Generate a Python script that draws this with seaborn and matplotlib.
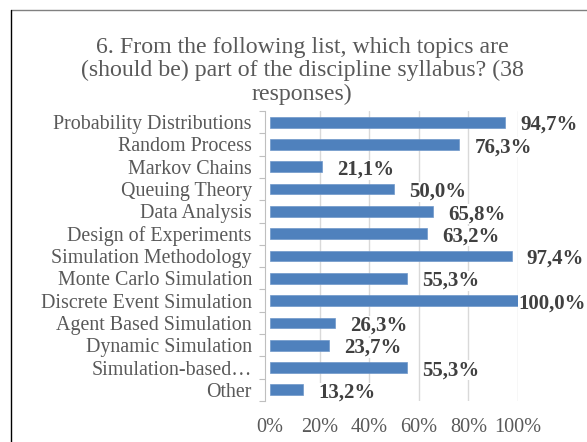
import numpy as np
import pandas as pd
import matplotlib
matplotlib.use("Agg")
import matplotlib.pyplot as plt
from matplotlib.lines import Line2D
import seaborn as sns

# Survey topics and share of the 38 responses that selected each one
topics = [
    "Probability Distributions",
    "Random Process",
    "Markov Chains",
    "Queuing Theory",
    "Data Analysis",
    "Design of Experiments",
    "Simulation Methodology",
    "Monte Carlo Simulation",
    "Discrete Event Simulation",
    "Agent Based Simulation",
    "Dynamic Simulation",
    "Simulation-based\u2026",
    "Other",
]
shares = [94.7, 76.3, 21.1, 50.0, 65.8, 63.2, 97.4, 55.3, 100.0, 26.3, 23.7, 55.3, 13.2]
x_ticks = [0, 20, 40, 60, 80, 100]
x_tick_labels = ["0%", "20%", "40%", "60%", "80%", "100%"]

title = ("6. From the following list, which topics are\n"
         "(should be) part of the discipline syllabus? (38\n"
         "responses)")

df = pd.DataFrame({"topic": topics, "share": shares})

sns.set_theme(style="white")
plt.rcParams["font.family"] = ["Liberation Serif", "DejaVu Serif"]

BAR = "#4F81BD"
GREY_TXT = "#595959"
GRID = "#D9D9D9"
AXIS = "#BFBFBF"

fig = plt.figure(figsize=(5.87, 4.42), dpi=100)
ax = fig.add_axes([270 / 587, 1 - 401 / 442, (518 - 270) / 587, 290 / 442])

sns.barplot(data=df, x="share", y="topic", orient="h", color=BAR,
            width=0.48, saturation=1, ax=ax, edgecolor="#6F97CA", linewidth=0.5)

ax.set_xlim(0, 100)
ax.set_ylim(len(topics) - 0.5, -0.5)
ax.set_xlabel("")
ax.set_ylabel("")

ax.set_xticks(x_ticks)
ax.set_xticklabels(x_tick_labels)
ax.tick_params(axis="x", length=0, pad=12, labelsize=14.6, labelcolor=GREY_TXT)
ax.tick_params(axis="y", which="major", length=0, pad=9.5, labelsize=14.4, labelcolor=GREY_TXT)
ax.set_yticks(np.arange(-0.5, len(topics), 1), minor=True)
ax.tick_params(axis="y", which="minor", left=True, length=4, width=0.8, color=AXIS)

ax.set_axisbelow(True)
ax.xaxis.grid(True, color=GRID, linewidth=1)
ax.yaxis.grid(False)
ax.get_xgridlines()[0].set_visible(False)

for side in ["top", "right", "bottom"]:
    ax.spines[side].set_visible(False)
ax.spines["left"].set_color(AXIS)
ax.spines["left"].set_linewidth(0.8)
ax.spines["left"].set_position(("outward", 3.5))

# Value labels just past the end of each bar
for i, v in enumerate(shares):
    offset = 11 if v < 100 else 0
    ax.annotate(f"{v:.1f}%".replace(".", ","), xy=(v, i), xytext=(offset, -2),
                textcoords="offset points", ha="left", va="center",
                fontsize=15, fontweight="bold", color="#404040",
                bbox=dict(facecolor="white", edgecolor="none", pad=0),
                annotation_clip=False)

fig.text(302 / 587, 1 - 37 / 442, title, ha="center", va="top",
         fontsize=17.2, color=GREY_TXT, linespacing=1.13)

# Chart frame edges
fig.add_artist(Line2D([11 / 587, 1], [1 - 10 / 442, 1 - 10 / 442],
                      transform=fig.transFigure, color="#808080", linewidth=1))
fig.add_artist(Line2D([11 / 587, 11 / 587], [0, 1 - 10 / 442],
                      transform=fig.transFigure, color="black", linewidth=1))

fig.savefig("out.png", dpi=100)
